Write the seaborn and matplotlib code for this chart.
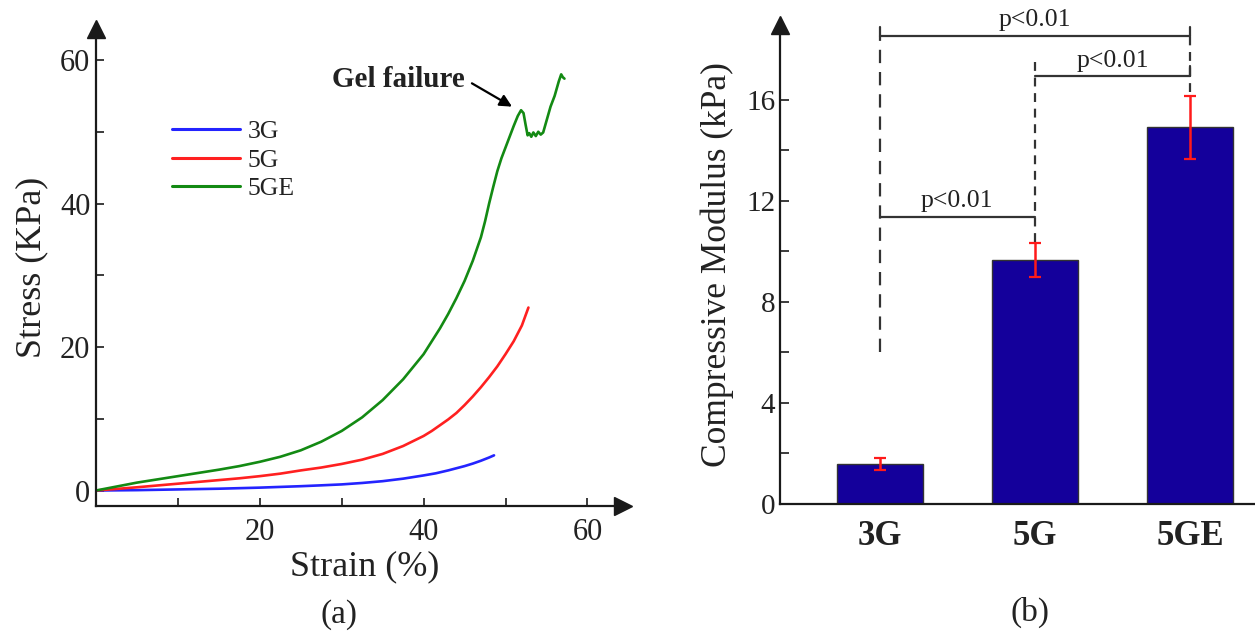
import numpy as np
import pandas as pd
import matplotlib
matplotlib.use("Agg")
import matplotlib.pyplot as plt
import seaborn as sns
from matplotlib.lines import Line2D

# ---------------- data ----------------
strain_3g = [0, 5, 10, 15, 20, 25, 27.5, 30, 32.5, 35, 37.5, 40, 41.5, 43, 44, 45, 46, 47, 48, 48.6]
stress_3g = [0, 0.05, 0.15, 0.25, 0.4, 0.6, 0.72, 0.85, 1.05, 1.3, 1.65, 2.1, 2.4, 2.8, 3.1, 3.4,
             3.75, 4.15, 4.6, 4.9]

strain_5g = [0, 2.5, 5, 7.5, 10, 12.5, 15, 17.5, 20, 22.5, 25, 27.5, 30, 32.5, 35, 37.5, 40,
             41, 42, 43, 44, 45, 46, 47, 48, 49, 50, 51, 52, 52.8]
stress_5g = [0, 0.22, 0.45, 0.7, 0.95, 1.2, 1.45, 1.7, 2.0, 2.35, 2.8, 3.2, 3.7, 4.3, 5.1, 6.2,
             7.6, 8.3, 9.1, 9.9, 10.8, 11.9, 13.1, 14.4, 15.8, 17.3, 19.0, 20.8, 23.0, 25.5]

strain_5ge = [0, 2.5, 5, 7.5, 10, 12.5, 15, 17.5, 20, 22.5, 25, 27.5, 30, 32.5, 35, 37.5, 40,
              41, 42, 43, 44, 45, 46, 47, 47.5, 48, 48.5, 49, 49.5, 50, 50.5, 51, 51.5,
              51.9, 52.2, 52.45, 52.7, 52.9, 53.15, 53.4, 53.7, 54.0, 54.3, 54.6,
              55.0, 55.5, 56.0, 56.5, 56.8, 57.0, 57.2]
stress_5ge = [0, 0.55, 1.1, 1.55, 2.0, 2.45, 2.9, 3.4, 4.0, 4.7, 5.6, 6.8, 8.3, 10.2, 12.6, 15.5,
              19.0, 20.8, 22.6, 24.6, 26.8, 29.2, 32.0, 35.3, 37.5, 40.0, 42.3, 44.5, 46.3, 47.8,
              49.3, 50.8, 52.2, 53.0, 52.6, 51.0, 49.5, 49.8, 49.3, 49.9, 49.4, 50.0, 49.6, 49.9,
              51.5, 53.5, 55.0, 57.0, 58.0, 57.6, 57.4]

groups = ["3G", "5G", "5GE"]
modulus = [1.57, 9.65, 14.92]
modulus_err = [0.24, 0.66, 1.25]
pval_text = "p<0.01"

# ---------------- style ----------------
sns.set_style("ticks")
plt.rcParams["font.family"] = ["Liberation Serif", "DejaVu Serif"]
plt.rcParams["text.color"] = "#222222"
plt.rcParams["axes.labelcolor"] = "#222222"
plt.rcParams["xtick.color"] = "#222222"
plt.rcParams["ytick.color"] = "#222222"

W, H = 1255, 637
fig = plt.figure(figsize=(W / 100, H / 100), dpi=100)


def fx(px):
    return px / W


def fy(py):
    return 1 - py / H


axis_col = "#1a1a1a"

# ---------------- left panel ----------------
axL = fig.add_axes([fx(96), fy(505.5), fx(623 - 96), (505.5 - 29) / H])
df = pd.concat([
    pd.DataFrame({"strain": strain_3g, "stress": stress_3g, "sample": "3G"}),
    pd.DataFrame({"strain": strain_5g, "stress": stress_5g, "sample": "5G"}),
    pd.DataFrame({"strain": strain_5ge, "stress": stress_5ge, "sample": "5GE"}),
])
pal = {"3G": "#2424ff", "5G": "#ff2020", "5GE": "#138a13"}
sns.lineplot(data=df, x="strain", y="stress", hue="sample", palette=pal,
             estimator=None, sort=False, lw=1.9, ax=axL, legend=False)
axL.set_xlim(0, (623 - 96) / 8.19)
axL.set_ylim(-2.09, (490.5 - 29) / 7.175)
sns.despine(ax=axL)
for s in ("left", "bottom"):
    axL.spines[s].set_linewidth(1.6)
    axL.spines[s].set_color(axis_col)
axL.set_xticks([20, 40, 60])
axL.set_xticks([10, 30, 50], minor=True)
axL.set_yticks([0, 20, 40, 60])
axL.set_yticks([10, 30, 50], minor=True)
axL.tick_params(which="both", direction="in", length=6, width=1.2, color=axis_col, labelsize=22)
axL.tick_params(axis="x", pad=9)
axL.tick_params(axis="y", pad=4)
axL.set_xlabel("Strain (%)", fontsize=26)
axL.set_ylabel("Stress (KPa)", fontsize=26)
axL.xaxis.set_label_coords((365 - 96) / (623 - 96), -(550 - 505.5) / (505.5 - 29))
axL.yaxis.set_label_coords(-(96 - 48) / (623 - 96), 0.5)
axL.plot(1, 0, marker=">", color=axis_col, markersize=12.5, transform=axL.transAxes, clip_on=False)
axL.plot(0, 1, marker="^", color=axis_col, markersize=12.5, transform=axL.transAxes, clip_on=False)

handles = [Line2D([], [], color=pal[g], lw=2.2) for g in groups]
axL.legend(handles, groups, loc="upper left", bbox_to_anchor=(fx(171.7), fy(120)),
           bbox_transform=fig.transFigure, frameon=False, fontsize=18.5,
           handlelength=2.65, handletextpad=0.3, labelspacing=0.22,
           borderpad=0, borderaxespad=0)

axL.text(45.05, 57.35, "Gel failure", ha="right", va="center", fontsize=21, fontweight="bold")
axL.annotate("", xy=(50.8, 53.5), xytext=(45.9, 56.75),
             arrowprops=dict(arrowstyle="-|>", color="black", lw=1.6,
                             mutation_scale=18, shrinkA=0, shrinkB=0))

fig.text(fx(339), fy(615), "(a)", ha="center", va="center", fontsize=24)

# ---------------- right panel ----------------
axR = fig.add_axes([fx(780), fy(503.5), 1 - fx(780), (503.5 - 25) / H])
dfb = pd.DataFrame({"group": groups, "modulus": modulus})
sns.barplot(data=dfb, x="group", y="modulus", order=groups, color="#14009b",
            saturation=1, width=0.558, errorbar=None, edgecolor="#333333",
            linewidth=1.0, ax=axR)
axR.errorbar(range(len(groups)), modulus, yerr=modulus_err, fmt="none",
             ecolor="#ff1a1a", elinewidth=1.8, capsize=4.5, capthick=1.6, zorder=5)
axR.set_xlim(-0.644, 2.42)
axR.set_ylim(0, (503.5 - 25) / 25.22)
axR.spines["top"].set_visible(False)
axR.spines["right"].set_visible(False)
for s in ("left", "bottom"):
    axR.spines[s].set_linewidth(1.6)
    axR.spines[s].set_color(axis_col)
axR.set_yticks([0, 4, 8, 12, 16])
axR.set_yticks([2, 6, 10, 14], minor=True)
axR.tick_params(axis="y", which="both", direction="in", length=6.5, width=1.2,
                color=axis_col, labelsize=21, pad=3.5)
axR.tick_params(axis="x", length=0, pad=12)
for lab in axR.get_xticklabels():
    lab.set_fontsize(25)
    lab.set_fontweight("bold")
axR.set_xlabel("")
axR.set_ylabel("Compressive Modulus (kPa)", fontsize=25.5)
axR.yaxis.set_label_coords(-(780 - 734) / (1255 - 780), 0.5)
axR.plot(0, 1, marker="^", color=axis_col, markersize=12.5, transform=axR.transAxes, clip_on=False)

lc = "#333333"
kw = dict(color=lc, lw=1.6, clip_on=False, zorder=4)
# vertical dashed lines
axR.plot([0, 0], [6.0, 18.55], ls=(0, (6, 4)), **kw)
axR.plot([1, 1], [10.38, 17.5], ls=(0, (4, 3)), **kw)
axR.plot([2, 2], [16.3, 18.55], ls=(0, (4, 3)), **kw)
# end ticks of brackets
axR.plot([0, 0], [18.55, 18.9], **kw)
axR.plot([2, 2], [18.55, 18.9], **kw)
axR.plot([2, 2], [16.95, 17.35], **kw)
# horizontal brackets
axR.plot([0, 2], [18.55, 18.55], **kw)
axR.plot([1, 2], [16.95, 16.95], **kw)
axR.plot([0, 1], [11.37, 11.37], **kw)
axR.text(1.0, 18.72, pval_text, ha="center", va="bottom", fontsize=18.5)
axR.text(1.5, 17.12, pval_text, ha="center", va="bottom", fontsize=18.5)
axR.text(0.5, 11.54, pval_text, ha="center", va="bottom", fontsize=18.5)

fig.text(fx(1030), fy(612), "(b)", ha="center", va="center", fontsize=24)

fig.savefig("out.png", dpi=100)
